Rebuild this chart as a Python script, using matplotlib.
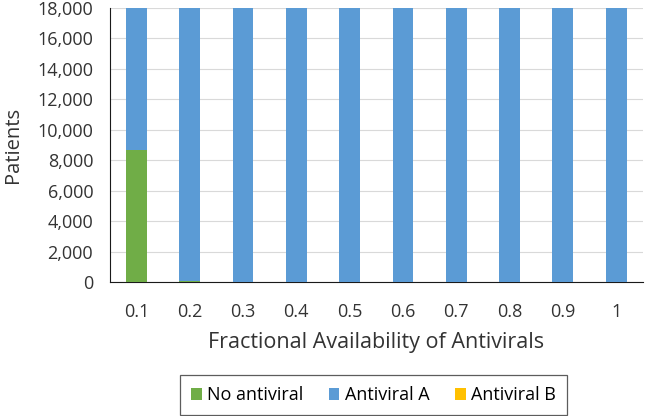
import numpy as np
import matplotlib
matplotlib.use("Agg")
import matplotlib.pyplot as plt

plt.rcParams["font.family"] = ["Open Sans", "DejaVu Sans"]

# data
availability = ["0.1", "0.2", "0.3", "0.4", "0.5", "0.6", "0.7", "0.8", "0.9", "1"]
no_antiviral = [8700, 100, 0, 0, 0, 0, 0, 0, 0, 0]
antiviral_a = [9300, 17900, 18000, 18000, 18000, 18000, 18000, 18000, 18000, 18000]
antiviral_b = [0, 0, 0, 0, 0, 0, 0, 0, 0, 0]

green = "#70AD47"
blue = "#5B9BD5"
yellow = "#FFC000"

fig = plt.figure(figsize=(6.46, 4.16), dpi=100)
ax = fig.add_axes([0.170, 0.322, 0.825, 0.659])

x = np.arange(len(availability))
width = 0.39
ax.bar(x, no_antiviral, width, color=green, label="No antiviral", zorder=3)
ax.bar(x, antiviral_a, width, bottom=no_antiviral, color=blue, label="Antiviral A", zorder=3)
bottom_b = [a + b for a, b in zip(no_antiviral, antiviral_a)]
ax.bar(x, antiviral_b, width, bottom=bottom_b, color=yellow, label="Antiviral B", zorder=3)

ax.set_xlim(-0.5, len(availability) - 0.5)
ax.set_ylim(0, 18000)
ax.set_yticks(np.arange(0, 18001, 2000))
ax.set_yticklabels([f"{v:,}" for v in range(0, 18001, 2000)], fontsize=13, color="#333333")
ax.set_xticks(x)
ax.set_xticklabels(availability, fontsize=13, color="#333333")
ax.tick_params(axis="both", length=0)
ax.tick_params(axis="x", pad=15)
ax.tick_params(axis="y", pad=12)

ax.grid(axis="y", color="#D9D9D9", linewidth=0.8, zorder=0)
for side in ["top", "right"]:
    ax.spines[side].set_visible(False)
ax.spines["left"].set_color("#1a1a1a")
ax.spines["bottom"].set_color("#1a1a1a")

ax.set_ylabel("Patients", fontsize=14.5, color="#333333", labelpad=10)
ax.set_xlabel("Fractional Availability of Antivirals", fontsize=15.5, color="#333333", labelpad=8)

leg = fig.legend(loc="center", bbox_to_anchor=(0.578, 0.05), ncol=3, fontsize=13,
                 frameon=True, fancybox=False, edgecolor="#333333",
                 handlelength=0.6, handleheight=0.6, handletextpad=0.3, columnspacing=1.4,
                 borderpad=0.6)
leg.get_frame().set_linewidth(0.9)

fig.savefig("out.png", dpi=100)
